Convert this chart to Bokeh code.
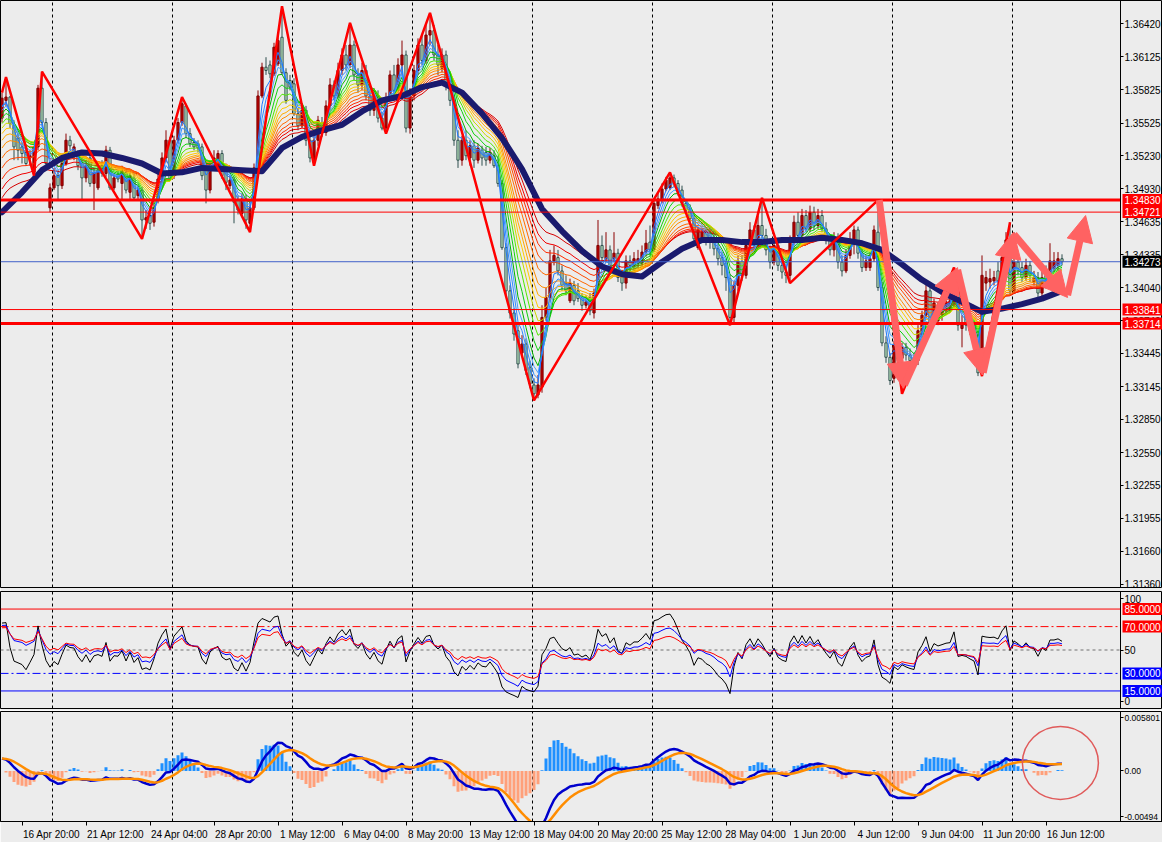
import numpy as np
from bokeh.plotting import figure
from bokeh.layouts import column
from bokeh.models import (Range1d, FixedTicker, PrintfTickFormatter, Label,
                          Arrow, NormalHead, ColumnDataSource, LinearAxis)
from bokeh.embed import file_html
from bokeh.resources import INLINE

# ------------------------------------------------------------------ data (H4 bars)
bar_open = [
 1.3557,1.3573,1.3576,1.3550,1.3539,1.3531,1.3526,1.3521,1.3508,1.3531,
 1.3584,1.3553,1.3476,1.3494,1.3505,1.3496,1.3516,1.3537,1.3523,1.3525,
 1.3516,1.3503,1.3521,1.3498,1.3494,1.3514,1.3507,1.3528,1.3494,1.3505,
 1.3498,1.3508,1.3490,1.3503,1.3487,1.3492,1.3465,1.3469,1.3463,1.3483,
 1.3501,1.3521,1.3537,1.3505,1.3537,1.3553,1.3568,1.3543,1.3535,1.3534,
 1.3531,1.3514,1.3492,1.3512,1.3512,1.3525,1.3512,1.3496,1.3501,1.3483,
 1.3471,1.3484,1.3462,1.3476,1.3512,1.3577,1.3603,1.3605,1.3597,1.3606,
 1.3630,1.3598,1.3591,1.3588,1.3561,1.3550,1.3564,1.3537,1.3519,1.3537,
 1.3553,1.3544,1.3568,1.3587,1.3577,1.3600,1.3614,1.3605,1.3623,1.3596,
 1.3587,1.3600,1.3577,1.3564,1.3577,1.3557,1.3548,1.3575,1.3596,1.3582,
 1.3605,1.3614,1.3548,1.3577,1.3600,1.3623,1.3609,1.3632,1.3636,1.3614,
 1.3602,1.3614,1.3587,1.3573,1.3537,1.3519,1.3537,1.3521,1.3532,1.3519,
 1.3528,1.3526,1.3519,1.3523,1.3514,1.3498,1.3440,1.3401,1.3381,1.3365,
 1.3345,1.3353,1.3332,1.3316,1.3307,1.3314,1.3377,1.3395,1.3428,1.3431,
 1.3419,1.3408,1.3392,1.3406,1.3401,1.3395,1.3388,1.3395,1.3381,1.3401,
 1.3442,1.3430,1.3438,1.3430,1.3435,1.3415,1.3408,1.3428,1.3424,1.3426,
 1.3426,1.3436,1.3445,1.3438,1.3478,1.3483,1.3493,1.3494,1.3503,1.3498,
 1.3492,1.3480,1.3475,1.3466,1.3440,1.3448,1.3454,1.3453,1.3448,1.3439,
 1.3431,1.3426,1.3412,1.3377,1.3406,1.3427,1.3415,1.3442,1.3456,1.3442,
 1.3460,1.3451,1.3438,1.3427,1.3442,1.3424,1.3418,1.3415,1.3447,1.3463,
 1.3451,1.3469,1.3457,1.3472,1.3460,1.3469,1.3457,1.3447,1.3438,1.3448,
 1.3427,1.3419,1.3433,1.3447,1.3456,1.3435,1.3422,1.3422,1.3430,1.3454,
 1.3404,1.3354,1.3341,1.3322,1.3352,1.3340,1.3350,1.3343,1.3340,1.3338,
 1.3361,1.3379,1.3401,1.3376,1.3374,1.3379,1.3383,1.3383,1.3388,1.3415,
 1.3367,1.3379,1.3376,1.3370,1.3361,1.3340,1.3408,1.3409,1.3410,1.3419,
 1.3417,1.3431,1.3442,1.3401,1.3427,1.3422,1.3413,1.3424,1.3409,1.3413,
 1.3399,1.3415,1.3410,1.3421,1.3424,1.3430]
bar_high = [
 1.3580,1.3594,1.3577,1.3555,1.3544,1.3535,1.3530,1.3528,1.3532,1.3587,
 1.3599,1.3557,1.3498,1.3512,1.3510,1.3519,1.3543,1.3541,1.3534,1.3528,
 1.3521,1.3519,1.3528,1.3512,1.3514,1.3519,1.3532,1.3531,1.3507,1.3510,
 1.3514,1.3512,1.3510,1.3507,1.3496,1.3495,1.3474,1.3475,1.3483,1.3508,
 1.3526,1.3546,1.3540,1.3541,1.3557,1.3576,1.3570,1.3548,1.3539,1.3537,
 1.3534,1.3519,1.3519,1.3528,1.3528,1.3528,1.3516,1.3505,1.3504,1.3487,
 1.3489,1.3488,1.3483,1.3516,1.3582,1.3607,1.3612,1.3609,1.3625,1.3630,
 1.3658,1.3602,1.3596,1.3593,1.3566,1.3568,1.3568,1.3541,1.3544,1.3559,
 1.3558,1.3573,1.3593,1.3591,1.3607,1.3620,1.3623,1.3643,1.3627,1.3602,
 1.3607,1.3605,1.3582,1.3584,1.3582,1.3562,1.3580,1.3600,1.3605,1.3611,
 1.3627,1.3618,1.3584,1.3605,1.3629,1.3632,1.3641,1.3652,1.3641,1.3623,
 1.3620,1.3618,1.3593,1.3577,1.3546,1.3541,1.3546,1.3537,1.3537,1.3534,
 1.3532,1.3531,1.3530,1.3528,1.3523,1.3501,1.3444,1.3406,1.3385,1.3370,
 1.3361,1.3358,1.3338,1.3322,1.3325,1.3388,1.3404,1.3438,1.3442,1.3438,
 1.3424,1.3415,1.3412,1.3410,1.3408,1.3399,1.3397,1.3399,1.3403,1.3465,
 1.3451,1.3454,1.3442,1.3454,1.3439,1.3420,1.3433,1.3433,1.3436,1.3438,
 1.3442,1.3456,1.3460,1.3484,1.3490,1.3498,1.3504,1.3508,1.3506,1.3501,
 1.3496,1.3484,1.3479,1.3470,1.3459,1.3457,1.3457,1.3457,1.3453,1.3444,
 1.3436,1.3430,1.3416,1.3410,1.3433,1.3433,1.3447,1.3463,1.3460,1.3469,
 1.3485,1.3457,1.3442,1.3447,1.3447,1.3430,1.3424,1.3451,1.3469,1.3472,
 1.3475,1.3474,1.3478,1.3477,1.3475,1.3474,1.3463,1.3451,1.3454,1.3453,
 1.3433,1.3438,1.3454,1.3460,1.3459,1.3439,1.3433,1.3436,1.3460,1.3483,
 1.3409,1.3360,1.3345,1.3356,1.3356,1.3354,1.3354,1.3349,1.3345,1.3370,
 1.3383,1.3408,1.3406,1.3394,1.3390,1.3392,1.3395,1.3397,1.3422,1.3419,
 1.3379,1.3383,1.3381,1.3374,1.3365,1.3433,1.3419,1.3421,1.3419,1.3427,
 1.3438,1.3454,1.3463,1.3454,1.3433,1.3427,1.3430,1.3428,1.3419,1.3418,
 1.3419,1.3424,1.3444,1.3436,1.3436,1.3434]
bar_low = [
 1.3553,1.3568,1.3548,1.3519,1.3519,1.3516,1.3514,1.3514,1.3505,1.3528,
 1.3550,1.3514,1.3472,1.3492,1.3483,1.3493,1.3514,1.3528,1.3519,1.3510,
 1.3483,1.3499,1.3495,1.3474,1.3492,1.3504,1.3504,1.3492,1.3492,1.3499,
 1.3483,1.3489,1.3484,1.3483,1.3484,1.3448,1.3457,1.3456,1.3459,1.3480,
 1.3498,1.3517,1.3501,1.3502,1.3534,1.3550,1.3539,1.3531,1.3528,1.3526,
 1.3501,1.3480,1.3489,1.3510,1.3510,1.3502,1.3492,1.3493,1.3462,1.3470,
 1.3468,1.3457,1.3454,1.3474,1.3510,1.3575,1.3596,1.3593,1.3595,1.3604,
 1.3596,1.3570,1.3582,1.3559,1.3546,1.3548,1.3532,1.3517,1.3514,1.3532,
 1.3540,1.3541,1.3564,1.3573,1.3575,1.3596,1.3600,1.3602,1.3591,1.3580,
 1.3582,1.3573,1.3559,1.3559,1.3553,1.3546,1.3543,1.3573,1.3577,1.3580,
 1.3596,1.3544,1.3543,1.3573,1.3596,1.3605,1.3606,1.3623,1.3609,1.3596,
 1.3598,1.3582,1.3568,1.3532,1.3512,1.3514,1.3519,1.3514,1.3512,1.3516,
 1.3514,1.3514,1.3516,1.3512,1.3495,1.3438,1.3397,1.3376,1.3356,1.3331,
 1.3342,1.3325,1.3313,1.3302,1.3304,1.3309,1.3374,1.3392,1.3424,1.3415,
 1.3401,1.3397,1.3390,1.3388,1.3391,1.3383,1.3385,1.3379,1.3376,1.3399,
 1.3427,1.3427,1.3419,1.3427,1.3409,1.3401,1.3403,1.3418,1.3419,1.3421,
 1.3423,1.3432,1.3433,1.3436,1.3475,1.3480,1.3491,1.3492,1.3495,1.3487,
 1.3477,1.3471,1.3463,1.3445,1.3438,1.3445,1.3442,1.3439,1.3433,1.3424,
 1.3415,1.3401,1.3370,1.3372,1.3401,1.3410,1.3412,1.3438,1.3438,1.3440,
 1.3447,1.3433,1.3421,1.3424,1.3419,1.3412,1.3408,1.3410,1.3442,1.3447,
 1.3448,1.3454,1.3454,1.3456,1.3457,1.3454,1.3443,1.3433,1.3432,1.3421,
 1.3414,1.3417,1.3430,1.3434,1.3430,1.3418,1.3419,1.3419,1.3427,1.3401,
 1.3351,1.3336,1.3316,1.3318,1.3334,1.3308,1.3338,1.3334,1.3331,1.3334,
 1.3356,1.3376,1.3365,1.3372,1.3370,1.3374,1.3379,1.3381,1.3385,1.3365,
 1.3350,1.3365,1.3361,1.3352,1.3324,1.3324,1.3401,1.3403,1.3406,1.3406,
 1.3414,1.3414,1.3397,1.3399,1.3415,1.3409,1.3410,1.3409,1.3406,1.3394,
 1.3396,1.3403,1.3407,1.3418,1.3419,1.3424]
bar_close = [
 1.3575,1.3576,1.3552,1.3531,1.3528,1.3525,1.3516,1.3523,1.3531,1.3584,
 1.3553,1.3516,1.3494,1.3505,1.3496,1.3516,1.3537,1.3532,1.3531,1.3514,
 1.3503,1.3514,1.3498,1.3508,1.3510,1.3507,1.3528,1.3494,1.3503,1.3502,
 1.3510,1.3492,1.3505,1.3485,1.3492,1.3465,1.3467,1.3462,1.3476,1.3502,
 1.3521,1.3537,1.3502,1.3537,1.3553,1.3570,1.3543,1.3534,1.3531,1.3530,
 1.3505,1.3492,1.3514,1.3521,1.3525,1.3505,1.3499,1.3501,1.3481,1.3474,
 1.3484,1.3465,1.3476,1.3512,1.3577,1.3603,1.3600,1.3597,1.3621,1.3627,
 1.3598,1.3573,1.3585,1.3561,1.3550,1.3564,1.3537,1.3521,1.3537,1.3555,
 1.3544,1.3568,1.3587,1.3577,1.3600,1.3614,1.3605,1.3623,1.3596,1.3587,
 1.3600,1.3577,1.3564,1.3577,1.3557,1.3548,1.3575,1.3596,1.3582,1.3605,
 1.3614,1.3548,1.3577,1.3600,1.3623,1.3609,1.3632,1.3636,1.3614,1.3605,
 1.3614,1.3587,1.3573,1.3537,1.3519,1.3537,1.3523,1.3532,1.3519,1.3530,
 1.3521,1.3519,1.3526,1.3514,1.3498,1.3440,1.3401,1.3381,1.3362,1.3335,
 1.3353,1.3329,1.3317,1.3308,1.3316,1.3377,1.3395,1.3428,1.3433,1.3419,
 1.3406,1.3401,1.3408,1.3392,1.3394,1.3388,1.3391,1.3383,1.3399,1.3442,
 1.3431,1.3438,1.3424,1.3435,1.3413,1.3408,1.3428,1.3424,1.3430,1.3430,
 1.3436,1.3444,1.3438,1.3480,1.3484,1.3493,1.3501,1.3503,1.3498,1.3490,
 1.3480,1.3474,1.3466,1.3448,1.3456,1.3454,1.3448,1.3445,1.3439,1.3430,
 1.3424,1.3413,1.3377,1.3406,1.3428,1.3415,1.3442,1.3456,1.3442,1.3460,
 1.3451,1.3438,1.3427,1.3442,1.3424,1.3418,1.3415,1.3447,1.3463,1.3451,
 1.3469,1.3457,1.3472,1.3460,1.3469,1.3457,1.3447,1.3438,1.3448,1.3427,
 1.3419,1.3433,1.3447,1.3456,1.3435,1.3422,1.3428,1.3430,1.3456,1.3404,
 1.3354,1.3341,1.3320,1.3352,1.3340,1.3350,1.3343,1.3338,1.3335,1.3365,
 1.3379,1.3401,1.3370,1.3390,1.3385,1.3388,1.3391,1.3392,1.3415,1.3370,
 1.3372,1.3370,1.3365,1.3361,1.3327,1.3415,1.3413,1.3412,1.3413,1.3410,
 1.3431,1.3447,1.3401,1.3427,1.3421,1.3413,1.3424,1.3415,1.3413,1.3399,
 1.3413,1.3409,1.3428,1.3428,1.3430,1.34273]

time_label_bars = [5, 21, 37, 53, 69, 85, 101, 117, 133, 149, 165, 181, 197, 213, 229, 245, 261]
time_labels = ["16 Apr 20:00", "21 Apr 12:00", "24 Apr 04:00", "28 Apr 20:00", "1 May 12:00",
               "6 May 04:00", "8 May 20:00", "13 May 12:00", "18 May 04:00", "20 May 20:00",
               "25 May 12:00", "28 May 04:00", "1 Jun 20:00", "4 Jun 12:00", "9 Jun 04:00",
               "11 Jun 20:00", "16 Jun 12:00"]

price_ticks = [1.36420, 1.36125, 1.35825, 1.35525, 1.35230, 1.34930, 1.34635, 1.34335, 1.34040,
               1.33740, 1.33445, 1.33145, 1.32850, 1.32550, 1.32255, 1.31955, 1.31660, 1.31360]

level_prices = [1.34830, 1.34721, 1.34273, 1.33841, 1.33714]

# thick navy moving average, read every 5 bars
navy_bars = list(range(0, 266, 5))
navy_prices = [
 1.3472, 1.3490, 1.3510, 1.3521, 1.3526, 1.3525, 1.3521, 1.3516, 1.3507, 1.3508,
 1.3512, 1.3511, 1.3510, 1.3509, 1.3530, 1.3540, 1.3546, 1.3551, 1.3563, 1.3573,
 1.3577, 1.3585, 1.3589, 1.3580, 1.3561, 1.3539, 1.3511, 1.3475, 1.3455, 1.3437,
 1.3423, 1.3416, 1.3414, 1.3427, 1.3439, 1.3447, 1.3447, 1.3445, 1.3445, 1.3447,
 1.3447, 1.3449, 1.3447, 1.3444, 1.3438, 1.3425, 1.3411, 1.3400, 1.3391, 1.3382,
 1.3385, 1.3389, 1.3394, 1.3401]

zigzag_bars = [0, 1, 8, 10, 35, 45, 62, 70, 78, 87, 96, 107, 133, 167, 182, 190, 197, 219, 225, 238, 245, 252]
zigzag_prices = [1.3580, 1.3594, 1.3505, 1.3599, 1.3448, 1.3576, 1.3454, 1.3658, 1.3514, 1.3643, 1.3543,
                 1.3652, 1.3302, 1.3508, 1.3370, 1.3485, 1.3408, 1.3483, 1.3308, 1.3422, 1.3324, 1.3463]

arrow_from_bars = [219.3, 225.6, 238.9, 245.3, 253.0, 266.4]
arrow_from_prices = [1.3483, 1.3316, 1.3420, 1.3327, 1.3452, 1.3397]
arrow_to_bars = [225.4, 238.9, 245.1, 252.9, 266.4, 270.9]
arrow_to_prices = [1.3313, 1.3422, 1.3325, 1.3454, 1.3395, 1.3469]

ribbon_periods = [3, 4, 5, 6, 8, 10, 12, 14, 16, 18, 21, 24, 27, 30, 34]
ribbon_start = [1.3568, 1.3567, 1.3564, 1.3561, 1.3557, 1.3552, 1.3548, 1.3543,
                1.3537, 1.3530, 1.3521, 1.3512, 1.3502, 1.3493, 1.3485]

rsi_periods = [8, 14, 20]
rsi_start = [73, 71, 69]
rsi_levels = [85, 70, 50, 30, 15]

macd_fast, macd_slow, macd_signal_period = 10, 21, 7
macd_start = 0.0012
signal_start = 0.0012
osma_scale = 2.0
macd_axis_values = [-0.00494, 0.0, 0.005801]

circle_bar = 264.6
circle_value = 0.00077

# ------------------------------------------------------------------ indicators
o = np.array(bar_open); h = np.array(bar_high); l = np.array(bar_low); c = np.array(bar_close)
n = len(c)
idx = np.arange(n)


def ema(vals, period, start):
    a = 2.0 / (period + 1)
    out = np.empty(len(vals))
    e = start
    out[0] = e
    for i in range(1, len(vals)):
        e += a * (vals[i] - e)
        out[i] = e
    return out


def rsi(vals, period, start):
    d = np.diff(vals)
    g = np.where(d > 0, d, 0.0)
    ls = np.where(d < 0, -d, 0.0)
    m = np.abs(d[:period]).mean()
    ag = m * start / 100.0
    al = m * (1 - start / 100.0)
    out = np.full(len(vals), np.nan)
    out[0] = start
    for i in range(1, len(vals)):
        ag = (ag * (period - 1) + g[i - 1]) / period
        al = (al * (period - 1) + ls[i - 1]) / period
        out[i] = 100.0 if al == 0 else 100.0 - 100.0 / (1.0 + ag / al)
    return out


ribbon = [ema(c, p_, s_) for p_, s_ in zip(ribbon_periods, ribbon_start)]
rsis = [rsi(c, p_, s_) for p_, s_ in zip(rsi_periods, rsi_start)]
fast_e = ema(c, macd_fast, c[0])
slow_e = ema(c, macd_slow, c[0] - macd_start)
macd_main = fast_e - slow_e
macd_sig = ema(macd_main, macd_signal_period, signal_start)
macd_hist = osma_scale * (macd_main - macd_sig)

# ------------------------------------------------------------------ styling
BG = "#ECECEC"
FONT = "Liberation Sans"
PX = 4.0                       # pixels per bar
X0 = -0.375
xr = Range1d(X0, X0 + 1162 / PX)
AXIS_X = X0 + 1120 / PX        # price scale sits at the right edge of the chart area
grid_bars = list(np.arange(12.6, n, 30.0))
ribbon_colors = ["#1E78FF", "#2E8BFF", "#4AA0FF", "#00B400", "#10D010", "#50E800",
                 "#C8D800", "#FFC800", "#FFAA00", "#FF8C00", "#FF6A00", "#FF4800",
                 "#FF2A00", "#F00000", "#D40000"]


def make_fig(height, yr, top, bottom, xaxis=None, label_size="10px"):
    p = figure(width=1162, height=height, x_range=xr, y_range=yr,
               output_backend="svg", toolbar_location=None,
               min_border_left=0, min_border_right=0, min_border_top=top, min_border_bottom=bottom,
               background_fill_color=BG, border_fill_color=BG,
               outline_line_color="black", outline_line_width=1,
               x_axis_location=xaxis, y_axis_location=None)
    p.ygrid.visible = False
    p.xgrid.ticker = FixedTicker(ticks=grid_bars)
    p.xgrid.grid_line_color = "black"
    p.xgrid.grid_line_dash = "3 3"
    p.xgrid.grid_line_width = 1
    ax = LinearAxis(fixed_location=AXIS_X)
    ax.axis_line_color = "black"
    ax.major_tick_out = 3
    ax.major_tick_in = 0
    ax.minor_tick_line_color = None
    ax.major_label_standoff = 1
    ax.major_label_text_font = FONT
    ax.major_label_text_font_size = label_size
    ax.major_label_text_color = "black"
    p.add_layout(ax, "right")
    return p, ax


def side_label(p, y, text, bg):
    p.add_layout(Label(x=AXIS_X, y=y, x_offset=2, text=text, text_color="white",
                       text_font=FONT, text_font_size="10px", text_baseline="middle",
                       text_align="left", background_fill_color=bg, padding=2))


def hline(p, y, color, width, dash="solid"):
    p.segment(x0=[xr.start], y0=[y], x1=[AXIS_X], y1=[y], line_color=color,
              line_width=width, line_dash=dash)


# ------------------------------------------------------------------ main price panel
pm, axm = make_fig(591, Range1d(1.31331, 1.36632), 0, 4)
axm.ticker = FixedTicker(ticks=price_ticks)
axm.formatter = PrintfTickFormatter(format="%.5f")

up = c >= o
dn = ~up
src_up = ColumnDataSource(dict(x=idx[up], top=c[up], bottom=o[up], hi=h[up], lo=l[up]))
src_dn = ColumnDataSource(dict(x=idx[dn], top=o[dn], bottom=c[dn], hi=h[dn], lo=l[dn]))
pm.segment(x0="x", y0="lo", x1="x", y1="hi", source=src_dn, line_color="#2F4F4F", line_width=1)
pm.vbar(x="x", width=0.55, top="top", bottom="bottom", source=src_dn,
        fill_color="#C6EEC6", line_color="#2F4F4F", line_width=1)
pm.segment(x0="x", y0="lo", x1="x", y1="hi", source=src_up, line_color="#8B0000", line_width=1)
pm.vbar(x="x", width=0.55, top="top", bottom="bottom", source=src_up,
        fill_color="#C00000", line_color="#7A0000", line_width=1)

for k in range(len(ribbon_periods) - 1, -1, -1):
    pm.line(idx, ribbon[k], line_color=ribbon_colors[k], line_width=1)
pm.line(navy_bars, navy_prices, line_color="#1A1A6E", line_width=6, line_join="round", line_cap="round")

level_styles = [("#FF0000", 3), ("#FF0000", 1), ("#4060C8", 1), ("#FF0000", 1), ("#FF0000", 3)]
for lv, (col, wd) in zip(level_prices, level_styles):
    hline(pm, lv, col, wd)

pm.line(zigzag_bars, zigzag_prices, line_color="#FF0000", line_width=2.5)

ARW = "#FF6262"
arrow_src = ColumnDataSource(dict(x0=arrow_from_bars, y0=arrow_from_prices,
                                  x1=arrow_to_bars, y1=arrow_to_prices))
pm.add_layout(Arrow(end=NormalHead(size=26, fill_color=ARW, line_color=ARW),
                    source=arrow_src, x_start="x0", y_start="y0", x_end="x1", y_end="y1",
                    line_color=ARW, line_width=7))

label_bg = ["#FF0000", "#FF0000", "#000000", "#FF0000", "#FF0000"]
for lv, bg in zip(level_prices, label_bg):
    side_label(pm, lv, "%.5f" % lv, bg)

# ------------------------------------------------------------------ oscillator panel
pr, axr = make_fig(119, Range1d(0, 100), 0, 2)
axr.ticker = FixedTicker(ticks=[6, 50, 94])
axr.major_label_overrides = {6: "0", 50: "50", 94: "100"}
lvl_style = {85: ("#FF0000", "solid"), 70: ("#FF0000", "8 3 2 3"), 50: ("#707070", "3 3"),
             30: ("#0000FF", "8 3 2 3"), 15: ("#0000FF", "solid")}
for lv in rsi_levels:
    col, dash = lvl_style[lv]
    hline(pr, lv, col, 1, dash)
for series, col in zip(rsis, ["#000000", "#0000FF", "#FF0000"]):
    pr.line(idx, series, line_color=col, line_width=1)
for lv in [85, 70, 30, 15]:
    side_label(pr, lv, "%.4f" % lv, "#FF0000" if lv > 50 else "#0000FF")

# ------------------------------------------------------------------ MACD panel
pd_, axd = make_fig(132, Range1d(macd_axis_values[0], macd_axis_values[2]), 1, 20,
                    xaxis="below", label_size="8.5px")
axd.ticker = FixedTicker(ticks=[-0.0045, 0.0, 0.0052])
axd.major_label_overrides = {-0.0045: "-0.00494", 0.0: "0.00", 0.0052: "0.005801"}
pos = macd_hist >= 0
pd_.vbar(x=idx[pos], top=macd_hist[pos], bottom=0, width=0.75, fill_color="#1E90FF", line_color=None)
pd_.vbar(x=idx[~pos], top=macd_hist[~pos], bottom=0, width=0.75, fill_color="#FFA07A", line_color=None)
pd_.line(idx, macd_main, line_color="#0000CD", line_width=2.5)
pd_.line(idx, macd_sig, line_color="#FF8C00", line_width=2.5)
pd_.ellipse(x=[circle_bar], y=[circle_value], width=76, height=73,
            width_units="screen", height_units="screen",
            fill_color=None, line_color="#E05A5A", line_width=1.5)

label_pos = [b + 7.4 for b in time_label_bars]
xa = pd_.xaxis[0]
xa.ticker = FixedTicker(ticks=label_pos, minor_ticks=time_label_bars)
xa.major_label_overrides = {lp: t for lp, t in zip(label_pos, time_labels)}
xa.major_tick_out = 0
xa.major_tick_in = 0
xa.minor_tick_out = 4
xa.minor_tick_in = 0
xa.minor_tick_line_color = "black"
xa.axis_line_color = "black"
xa.major_label_standoff = 3
xa.major_label_text_font = FONT
xa.major_label_text_font_size = "10px"
xa.major_label_text_color = "black"

layout = column(pm, pr, pd_, spacing=0)
open("out.html", "w").write(file_html(layout, INLINE, title="chart"))
